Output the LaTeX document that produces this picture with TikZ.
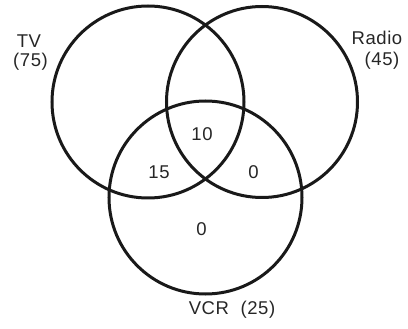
\documentclass[tikz,border=0pt]{standalone}
\usepackage{fontspec}
\setmainfont{Liberation Sans}[LetterSpace=3]
\begin{document}
\begin{tikzpicture}[x=1pt,y=-1pt,
  ring/.style={draw=black!90,line width=3pt},
  lbl/.style={font=\fontsize{18.5}{20}\selectfont,text=black!85,inner sep=0pt,align=center}]
\useasboundingbox (0,0) rectangle (408,329);
\node[ring,circle,minimum size=192pt,inner sep=0pt] (tv) at (148,102) {};
\node[ring,circle,minimum size=191pt,inner sep=0pt] (radio) at (262,102) {};
\node[ring,circle,minimum size=193pt,inner sep=0pt] (vcr) at (205.5,197.5) {};
\node[lbl] (tvname) at (29,41) {TV};
\node[lbl] (tvnum) at (30.5,62) {(75)};
\node[lbl] (radioname) at (377,38) {Radio};
\node[lbl] (radionum) at (382,61) {(45)};
\node[lbl] (all) at (202,134) {10};
\node[lbl] (tvvcr) at (159,172) {15};
\node[lbl] (radiovcr) at (253.5,172) {0};
\node[lbl] (vcronly) at (201.5,229) {0};
\node[lbl] (vcrname) at (232,310) {VCR\hspace{6pt} (25)};
\end{tikzpicture}
\end{document}
